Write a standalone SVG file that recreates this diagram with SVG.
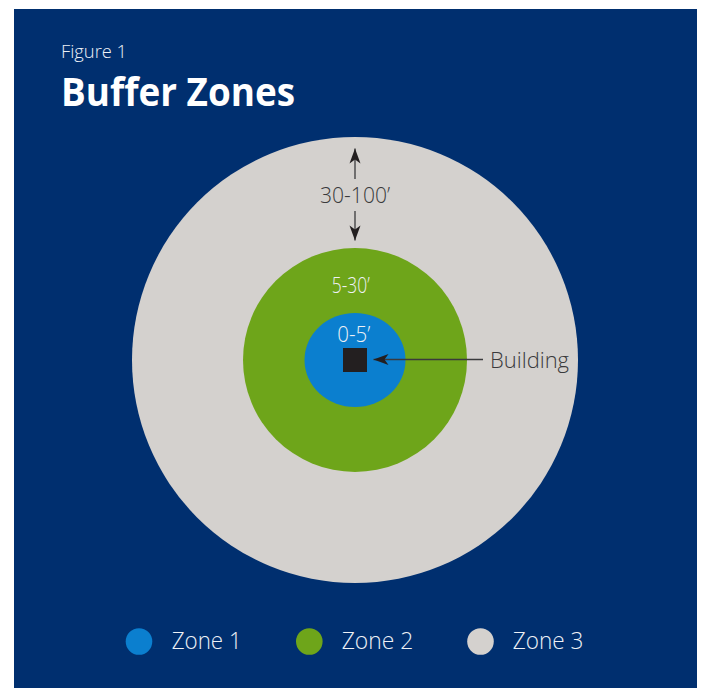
<svg xmlns="http://www.w3.org/2000/svg" width="701" height="688" viewBox="0 0 701 688">
  <style>
    .light { font-family: "Source Sans Pro", "Open Sans", "Liberation Sans", sans-serif; font-weight: 300; }
    .white { fill: #eef1f6; }
    .dark { fill: #3a3a3c; }
    .conn { stroke: #3a3a3c; stroke-width: 1.3; fill: none; }
  </style>
  <defs>
    <marker id="barb" viewBox="-16 -6 17 12" refX="0" refY="0" markerWidth="17" markerHeight="12" markerUnits="userSpaceOnUse" orient="auto">
      <path d="M0,0 L-15,-5.5 L-11,0 L-15,5.5 Z" fill="#231f20"/>
    </marker>
  </defs>
  <rect x="14" y="9" width="683" height="679" fill="#002f6f"/>
  <text class="light white" x="61" y="57.7" font-size="18" textLength="66" lengthAdjust="spacingAndGlyphs">Figure 1</text>
  <text x="61" y="105.7" font-family="'Source Sans Pro', 'Open Sans', 'Liberation Sans', sans-serif" font-weight="700" font-size="39" fill="#ffffff" textLength="234" lengthAdjust="spacingAndGlyphs">Buffer Zones</text>

  <g id="zone3">
    <circle cx="355" cy="360" r="223" fill="#d4d1ce"/>
    <text class="light dark" x="320" y="202.7" font-size="22" textLength="70" lengthAdjust="spacingAndGlyphs">30-100’</text>
  </g>
  <g id="zone2">
    <circle cx="355" cy="360" r="112" fill="#6ea51a"/>
    <text class="light white" x="331.7" y="293.3" font-size="22" textLength="38" lengthAdjust="spacingAndGlyphs">5-30’</text>
  </g>
  <g id="zone1">
    <ellipse cx="355" cy="360" rx="50.5" ry="47" fill="#0b7fcf"/>
    <text class="light white" x="337.3" y="341.7" font-size="22" textLength="33" lengthAdjust="spacingAndGlyphs">0-5’</text>
  </g>
  <g id="building">
    <rect x="343" y="348" width="24" height="24" fill="#231f20"/>
    <text class="light dark" x="490" y="368.3" font-size="22.5" textLength="79" lengthAdjust="spacingAndGlyphs">Building</text>
  </g>

  <g id="connectors">
    <line class="conn" x1="355" y1="179" x2="355" y2="148.5" marker-end="url(#barb)"/>
    <line class="conn" x1="355" y1="211" x2="355" y2="240.5" marker-end="url(#barb)"/>
    <line class="conn" x1="483" y1="359.5" x2="373.5" y2="359.5" marker-end="url(#barb)"/>
  </g>

  <g id="legend">
    <g id="legend-zone1">
      <circle cx="139" cy="641.5" r="13.3" fill="#0b7fcf"/>
      <text class="light white" x="171.7" y="649.3" font-size="23" textLength="70" lengthAdjust="spacingAndGlyphs">Zone 1</text>
    </g>
    <g id="legend-zone2">
      <circle cx="309.3" cy="641.5" r="13.3" fill="#6ea51a"/>
      <text class="light white" x="341.7" y="649.3" font-size="23" textLength="71.6" lengthAdjust="spacingAndGlyphs">Zone 2</text>
    </g>
    <g id="legend-zone3">
      <circle cx="480.5" cy="641.5" r="13.3" fill="#d4d1ce"/>
      <text class="light white" x="512.7" y="649.3" font-size="23" textLength="70.6" lengthAdjust="spacingAndGlyphs">Zone 3</text>
    </g>
  </g>
</svg>
